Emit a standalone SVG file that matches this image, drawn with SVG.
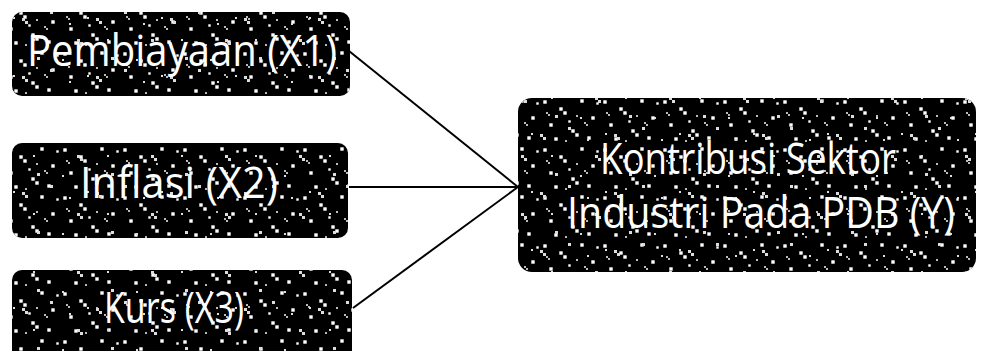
<svg xmlns="http://www.w3.org/2000/svg" width="989" height="351" viewBox="0 0 989 351">
  <style>
    .box { fill: #000; }
    .speckle { fill: url(#grain); }
    .speckle2 { fill: url(#grain2); }
    .label { fill: #fff; font-family: "Open Sans", "Liberation Sans", sans-serif; font-size: 43px; text-anchor: middle; }
    .link { stroke: #000; stroke-width: 2; fill: none; }
  </style>
  <defs>
    <!-- scattered light dots over the dark box fill -->
    <pattern id="grain" width="60" height="48" patternUnits="userSpaceOnUse">
      <g fill="#fff" stroke="#000" stroke-width="0.6">
        <rect x="3" y="4" width="4" height="4"/>
        <rect x="19" y="11" width="4" height="4"/>
        <rect x="23" y="15" width="4" height="4"/>
        <rect x="40" y="3" width="4" height="4"/>
        <rect x="51" y="20" width="4" height="4"/>
        <rect x="9" y="27" width="4" height="4"/>
        <rect x="31" y="33" width="4" height="4"/>
        <rect x="35" y="37" width="4" height="4"/>
        <rect x="47" y="40" width="4" height="4"/>
        <rect x="14" y="41" width="4" height="4"/>
        <rect x="56" y="6" width="3" height="3"/>
        <rect x="28" y="24" width="3" height="3"/>
      </g>
      <g fill="#bbb">
        <rect x="44" y="26" width="2" height="2"/>
        <rect x="46" y="28" width="2" height="2"/>
        <rect x="6" y="16" width="2" height="2"/>
        <rect x="8" y="18" width="2" height="2"/>
        <rect x="25" y="44" width="2" height="2"/>
        <rect x="36" y="19" width="2" height="2"/>
      </g>
    </pattern>
    <!-- second, offset dot layer so the repeat is less regular -->
    <pattern id="grain2" width="74" height="58" patternUnits="userSpaceOnUse" patternTransform="translate(17 9)">
      <g fill="#ddd">
        <rect x="5" y="9" width="3" height="3"/>
        <rect x="8" y="12" width="3" height="3"/>
        <rect x="33" y="2" width="3" height="3"/>
        <rect x="60" y="30" width="3" height="3"/>
        <rect x="63" y="33" width="3" height="3"/>
        <rect x="20" y="48" width="3" height="3"/>
        <rect x="45" y="50" width="2" height="2"/>
        <rect x="70" y="8" width="2" height="2"/>
        <rect x="16" y="30" width="2" height="2"/>
        <rect x="52" y="14" width="2" height="2"/>
      </g>
    </pattern>
  </defs>

  <g id="connectors">
    <line class="link" x1="349" y1="51" x2="518" y2="187"/>
    <line class="link" x1="349" y1="187" x2="518" y2="187"/>
    <line class="link" x1="353" y1="308" x2="518" y2="187"/>
  </g>

  <g id="node-x1">
    <rect class="box" x="12" y="12" width="338" height="84" rx="10"/>
    <rect class="speckle" x="12" y="12" width="338" height="84" rx="10"/>
    <rect class="speckle2" x="12" y="12" width="338" height="84" rx="10"/>
    <text class="label" x="182" y="66" textLength="310" lengthAdjust="spacingAndGlyphs">Pembiayaan (X1)</text>
  </g>

  <g id="node-x2">
    <rect class="box" x="12" y="143" width="336" height="95" rx="10"/>
    <rect class="speckle" x="12" y="143" width="336" height="95" rx="10"/>
    <rect class="speckle2" x="12" y="143" width="336" height="95" rx="10"/>
    <text class="label" x="179" y="198" textLength="198" lengthAdjust="spacingAndGlyphs">Inflasi (X2)</text>
  </g>

  <g id="node-x3">
    <rect class="box" x="12" y="270" width="340" height="90" rx="10"/>
    <rect class="speckle" x="12" y="270" width="340" height="90" rx="10"/>
    <rect class="speckle2" x="12" y="270" width="340" height="90" rx="10"/>
    <text class="label" x="174" y="323" textLength="140" lengthAdjust="spacingAndGlyphs">Kurs (X3)</text>
  </g>

  <g id="node-y">
    <rect class="box" x="518" y="98" width="458" height="174" rx="14"/>
    <rect class="speckle" x="518" y="98" width="458" height="174" rx="14"/>
    <rect class="speckle2" x="518" y="98" width="458" height="174" rx="14"/>
    <text class="label" x="748" y="174" textLength="296" lengthAdjust="spacingAndGlyphs">Kontribusi Sektor</text>
    <text class="label" x="761" y="228" textLength="388" lengthAdjust="spacingAndGlyphs">Industri Pada PDB (Y)</text>
  </g>
</svg>
